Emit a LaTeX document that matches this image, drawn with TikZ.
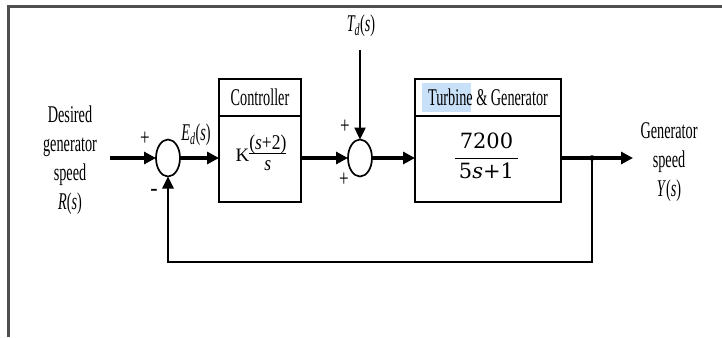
\documentclass[tikz,border=0pt]{standalone}
\usepackage{fontspec}
\usepackage{graphicx}
\setmainfont{Liberation Serif}
\newfontfamily\plantfont{DejaVu Serif}
\usetikzlibrary{arrows.meta,shapes.geometric,calc}

% narrow, tall lettering used throughout the block diagram
\newcommand\tallbox[1]{\scalebox{0.95}[1.6]{#1}}
\definecolor{selblue}{RGB}{200,224,248}
\definecolor{framegray}{RGB}{80,80,80}

\begin{document}
\begin{tikzpicture}[x=1pt,y=-1pt,
  every node/.style={inner sep=0pt, outer sep=0pt},
  flow/.style={line width=3.2pt, -{Triangle[length=12pt,width=12pt]}},
  fbflow/.style={line width=2.6pt, -{Triangle[length=12pt,width=11pt]}},
  block/.style={draw, line width=2.2pt, minimum width=#1, minimum height=123pt},
  header/.style={draw, line width=2.2pt, minimum width=#1, minimum height=37pt, anchor=north},
  junction/.style={draw, ellipse, line width=1.7pt, minimum width=24pt, minimum height=37pt},
  lbl/.style={font=\fontsize{15}{29}\selectfont, align=center},
  sign/.style={font=\fontsize{17}{17}\selectfont}]

\useasboundingbox (0,0) rectangle (722,337);

% page frame (top and left edges)
\draw[line width=2.4pt, framegray] (722,6.5) -- (8.5,6.5) -- (8.5,337);

% selection highlight behind "Turbine"
\fill[selblue] (421.5,83) rectangle (471,112);

% summing junctions
\node[junction] (s1) at (168,158) {};
\node[junction] (s2) at (360,158) {};

% controller block
\node[block=82pt] (ctrl) at (260,140.5) {};
\node[header=82pt] (ctrlhead) at (ctrl.north)
  {\fontsize{15}{15}\selectfont\tallbox{Controller}};
\node (ctrllaw) at (261,156) {\fontsize{19}{19}\selectfont K\fontsize{17.5}{17.5}\selectfont
  \scalebox{1}[1.2]{\setlength\arrayrulewidth{0.9pt}%
  \begin{tabular}{@{}c@{}}(\textit{s}+2)\\[-3pt]\hline\rule{0pt}{14pt}\textit{s}\end{tabular}}};

% turbine and generator block
\node[block=146pt] (plant) at (488,140.5) {};
\node[header=146pt] (planthead) at (plant.north)
  {\fontsize{15}{15}\selectfont\tallbox{Turbine \& Generator}};
\node (plantfrac) at (486.5,159) {\plantfont\fontsize{21}{21}\selectfont
  \setlength\arrayrulewidth{1.3pt}%
  \begin{tabular}{@{\,}c@{\,}}7200\\[3pt]\hline\rule{0pt}{20pt}5\textit{s}+1\end{tabular}};

% signal coordinates
\coordinate (in) at (110,158);
\coordinate (out) at (633,158);
\coordinate (branch) at (592,158);
\coordinate (fb) at (592,262);
\coordinate (td) at (360,50);

% forward path
\draw[flow] (in) -- (s1.west);
\draw[flow] (s1.east) -- (s1.east -| ctrl.west);
\draw[flow] (s2.west -| ctrl.east) -- (s2.west);
\draw[flow] (s2.east) -- (s2.east -| plant.west);
\draw[flow] (branch -| plant.east) -- (out);

% disturbance input
\draw[line width=2.4pt, -{Triangle[length=12pt,width=11pt]}] (td) -- (s2.north);

% feedback path
\draw[fbflow] (branch) -- (fb) -| (s1.south);
\fill (branch) circle (2.8pt);

% signal labels
\node[lbl] (rlabel) at (70,160)
  {\tallbox{Desired}\\\tallbox{generator}\\\tallbox{speed}\\\tallbox{\textit{R}(\textit{s})}};
\node[lbl] (ylabel) at (669,162)
  {\tallbox{Generator}\\\tallbox{speed}\\\tallbox{\textit{Y}(\textit{s})}};
\node (edlabel) at (196,135)
  {\fontsize{15}{15}\selectfont\tallbox{\textit{E\textsubscript{d}}(\textit{s})}};
\node (tdlabel) at (361,26)
  {\fontsize{15}{15}\selectfont\tallbox{\textit{T\textsubscript{d}}(\textit{s})}};

% junction signs
\node[sign] (p1) at (145,139) {\scalebox{1}[1.4]{+}};
\node[sign] (m1) at (154,192) {\fontsize{22}{22}\selectfont\textbf{-}};
\node[sign] (p2) at (345,127) {\scalebox{1}[1.4]{+}};
\node[sign] (p3) at (344,180) {\scalebox{1}[1.4]{+}};
\end{tikzpicture}
\end{document}
